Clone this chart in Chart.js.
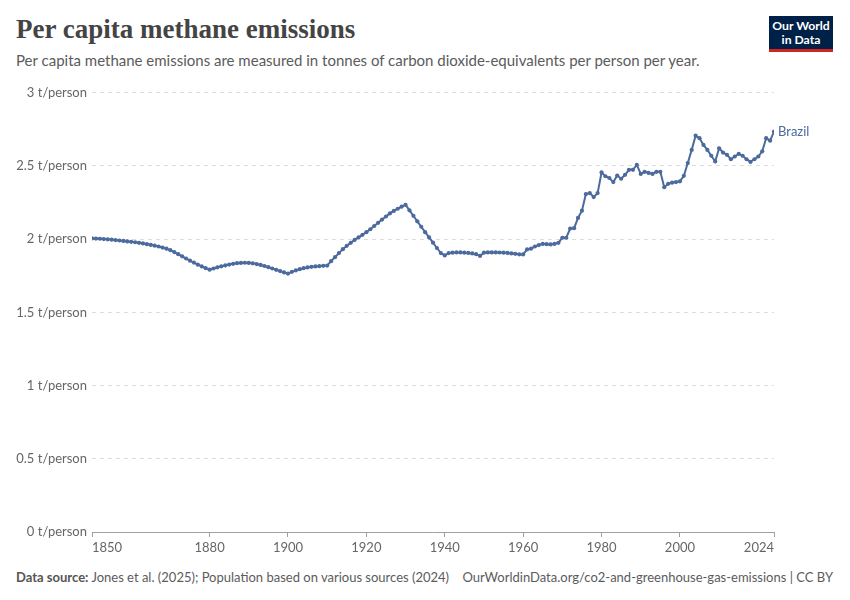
<!DOCTYPE html>
<html>
<head>
<meta charset="utf-8">
<script src="https://cdn.jsdelivr.net/npm/chart.js@4.4.1/dist/chart.umd.min.js"></script>
<style>
  body { margin: 0; background: #fff; font-family: Lato, "Noto Sans", sans-serif; }
  #page { position: relative; width: 850px; height: 600px; overflow: hidden; }
  h1 { position: absolute; left: 16px; top: 14px; margin: 0; font-family: "Liberation Serif", "DejaVu Serif", serif;
       font-weight: bold; font-size: 27px; color: #444; letter-spacing: 0; }
  #subtitle { position: absolute; left: 16px; top: 51px; font-size: 15px; color: #5b5b5b; }
  #logo { position: absolute; left: 769px; top: 16px; width: 64px; background: #002147;
          border-bottom: 3px solid #ce261e; color: #fff; font-size: 12.2px; font-weight: bold;
          text-align: center; line-height: 14px; padding-top: 3px; box-sizing: content-box; height: 30px; }
  #footer { position: absolute; left: 16px; right: 17px; top: 569px; font-size: 13px; color: #5b5b5b; }
  #footer b { color: #555; }
  #footer .right { position: absolute; right: 0; top: 0; }
  #wrap { position: absolute; left: 0; top: 80px; width: 850px; height: 480px; }
</style>
</head>
<body>
<div id="page">
  <h1>Per capita methane emissions</h1>
  <div id="subtitle">Per capita methane emissions are measured in tonnes of carbon dioxide-equivalents per person per year.</div>
  <div id="logo">Our World<br>in Data</div>
  <div id="wrap"><canvas id="chart" width="850" height="480"></canvas></div>
  <div id="footer"><b>Data source:</b> Jones et al. (2025); Population based on various sources (2024)<span class="right">OurWorldinData.org/co2-and-greenhouse-gas-emissions | CC BY</span></div>
</div>

<script>
  // Brazil, per capita methane emissions (t CO2-eq per person), one value per year 1850-2024
  const firstYear = 1850;
  const brazil = [
    2.005, 2.004, 2.003, 2.001, 1.999, 1.997, 1.994, 1.991, 1.988, 1.985, // 1850s
    1.982, 1.979, 1.975, 1.971, 1.966, 1.961, 1.956, 1.950, 1.943, 1.935, // 1860s
    1.925, 1.912, 1.898, 1.883, 1.868, 1.853, 1.840, 1.826, 1.814, 1.802, // 1870s
    1.792, 1.800, 1.808, 1.815, 1.821, 1.827, 1.832, 1.836, 1.838, 1.839, // 1880s
    1.838, 1.835, 1.830, 1.824, 1.817, 1.809, 1.800, 1.791, 1.782, 1.773, // 1890s
    1.765, 1.777, 1.787, 1.795, 1.802, 1.807, 1.811, 1.814, 1.816, 1.818, // 1900s
    1.820, 1.850, 1.877, 1.905, 1.932, 1.955, 1.975, 1.995, 2.013, 2.030, // 1910s
    2.048, 2.068, 2.090, 2.112, 2.134, 2.155, 2.176, 2.193, 2.208, 2.222, // 1920s
    2.235, 2.197, 2.160, 2.122, 2.085, 2.048, 2.012, 1.976, 1.940, 1.905, // 1930s
    1.889, 1.905, 1.908, 1.910, 1.910, 1.908, 1.906, 1.903, 1.898, 1.886, // 1940s
    1.908, 1.910, 1.910, 1.910, 1.909, 1.908, 1.906, 1.903, 1.900, 1.897, // 1950s
    1.896, 1.930, 1.935, 1.950, 1.960, 1.968, 1.966, 1.964, 1.968, 1.975, // 1960s
    2.010, 2.010, 2.073, 2.075, 2.145, 2.195, 2.308, 2.315, 2.288, 2.315, // 1970s
    2.456, 2.430, 2.418, 2.390, 2.435, 2.413, 2.440, 2.474, 2.474, 2.508, // 1980s
    2.446, 2.460, 2.453, 2.446, 2.460, 2.460, 2.355, 2.378, 2.386, 2.390, // 1990s
    2.395, 2.433, 2.520, 2.610, 2.707, 2.690, 2.644, 2.610, 2.570, 2.531, // 2000s
    2.621, 2.592, 2.576, 2.546, 2.565, 2.583, 2.570, 2.546, 2.528, 2.546, // 2010s
    2.565, 2.600, 2.690, 2.673, 2.735                                      // 2020-2024
  ];
  const years = brazil.map((v, i) => firstYear + i);
  const xTicks = [1850, 1880, 1900, 1920, 1940, 1960, 1980, 2000, 2024];
  const yTicks = [0, 0.5, 1, 1.5, 2, 2.5, 3];

  const blue = '#4c6a9c';

  // puts the series name next to its last point
  const endLabel = {
    id: 'endLabel',
    afterDatasetsDraw(chart) {
      const meta = chart.getDatasetMeta(0);
      const last = meta.data[meta.data.length - 1];
      const ctx = chart.ctx;
      ctx.save();
      ctx.font = '13px Lato';
      ctx.fillStyle = blue;
      ctx.textBaseline = 'middle';
      ctx.fillText('Brazil', last.x + 4, last.y);
      ctx.restore();
    }
  };

  new Chart(document.getElementById('chart'), {
    type: 'line',
    data: {
      datasets: [{
        label: 'Brazil',
        data: years.map((y, i) => ({ x: y, y: brazil[i] })),
        borderColor: blue,
        backgroundColor: blue,
        borderWidth: 2,
        pointRadius: 2.1,
        pointBorderWidth: 0,
        pointBackgroundColor: blue,
        tension: 0
      }]
    },
    options: {
      responsive: false,
      animation: false,
      layout: { padding: { left: 0, right: 76, top: 11, bottom: 0 } },
      plugins: { legend: { display: false }, tooltip: { enabled: false } },
      scales: {
        x: {
          type: 'linear',
          min: 1850,
          max: 2024,
          afterBuildTicks: s => { s.ticks = xTicks.map(v => ({ value: v })); },
          afterFit: s => { s.height = 28; },
          border: { display: true, color: '#a0a0a0' },
          grid: { drawOnChartArea: false, drawTicks: true, tickLength: 5, color: '#a0a0a0' },
          ticks: {
            autoSkip: false,
            maxRotation: 0,
            align: 'inner',
            padding: 3,
            color: '#666',
            font: { family: 'Lato', size: 13 },
            callback: v => String(v)
          }
        },
        y: {
          min: 0,
          max: 3,
          afterBuildTicks: s => { s.ticks = yTicks.map(v => ({ value: v })); },
          afterFit: s => { s.width = 92; },
          border: { display: false, dash: [4, 4] },
          grid: { color: '#dcdcdc', drawTicks: false, lineWidth: 1 },
          ticks: {
            padding: 5,
            color: '#666',
            font: { family: 'Lato', size: 13 },
            callback: v => v + ' t/person'
          }
        }
      }
    },
    plugins: [endLabel]
  });
</script>
</body>
</html>
